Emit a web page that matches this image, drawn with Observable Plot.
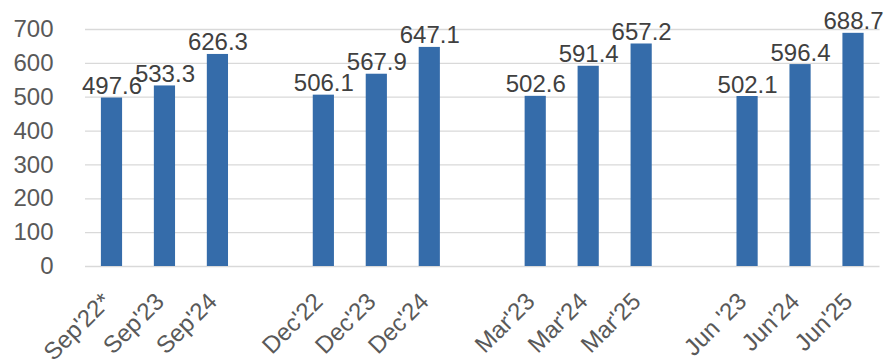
<!DOCTYPE html>
<html>
<head>
<meta charset="utf-8">
<script src="https://cdn.jsdelivr.net/npm/d3@7"></script>
<script src="https://cdn.jsdelivr.net/npm/@observablehq/plot@0.6"></script>
<style>
  html, body { margin: 0; padding: 0; background: #fff; }
</style>
</head>
<body>
<div id="chart"></div>
<script>
const groups = [
  ["Sep'22*", "Sep'23", "Sep'24"],
  ["Dec'22", "Dec'23", "Dec'24"],
  ["Mar'23", "Mar'24", "Mar'25"],
  ["Jun '23", "Jun'24", "Jun'25"]
];
const categories = groups.flat();
const values = [497.6, 533.3, 626.3, 506.1, 567.9, 647.1, 502.6, 591.4, 657.2, 502.1, 596.4, 688.7];
const yTicks = [0, 100, 200, 300, 400, 500, 600, 700];

// domain with one empty slot between quarter groups
const domain = [];
groups.forEach((g, i) => {
  domain.push(...g);
  if (i < groups.length - 1) domain.push("gap" + i);
});

const data = categories.map((c, i) => ({cat: c, value: values[i]}));

const chart = Plot.plot({
  width: 887,
  height: 361,
  marginLeft: 85,
  marginRight: 7.5,
  marginTop: 29,
  marginBottom: 95,
  style: {fontFamily: "'Liberation Sans', Arial, sans-serif", fontSize: "24px", color: "#595959", background: "#fff"},
  x: {domain, paddingInner: 0.6, paddingOuter: 0.3, round: false},
  y: {domain: [0, 700]},
  marks: [
    Plot.gridY(yTicks, {stroke: "#d9d9d9", strokeOpacity: 1, strokeWidth: 1.3}),
    Plot.barY(data, {x: "cat", y: "value", fill: "#356CAA"}),
    Plot.text(data, {x: "cat", y: "value", text: d => d.value.toFixed(1), lineAnchor: "bottom", dy: -4, fill: "#404040", fontSize: 24}),
    Plot.axisY({ticks: yTicks, tickSize: 0, tickPadding: 32, fontSize: 24, label: null}),
    Plot.axisX({ticks: categories, tickSize: 0, tickRotate: -45, tickPadding: 31, dx: -5, fontSize: 24, label: null})
  ]
});
document.getElementById("chart").appendChild(chart);
</script>
</body>
</html>
